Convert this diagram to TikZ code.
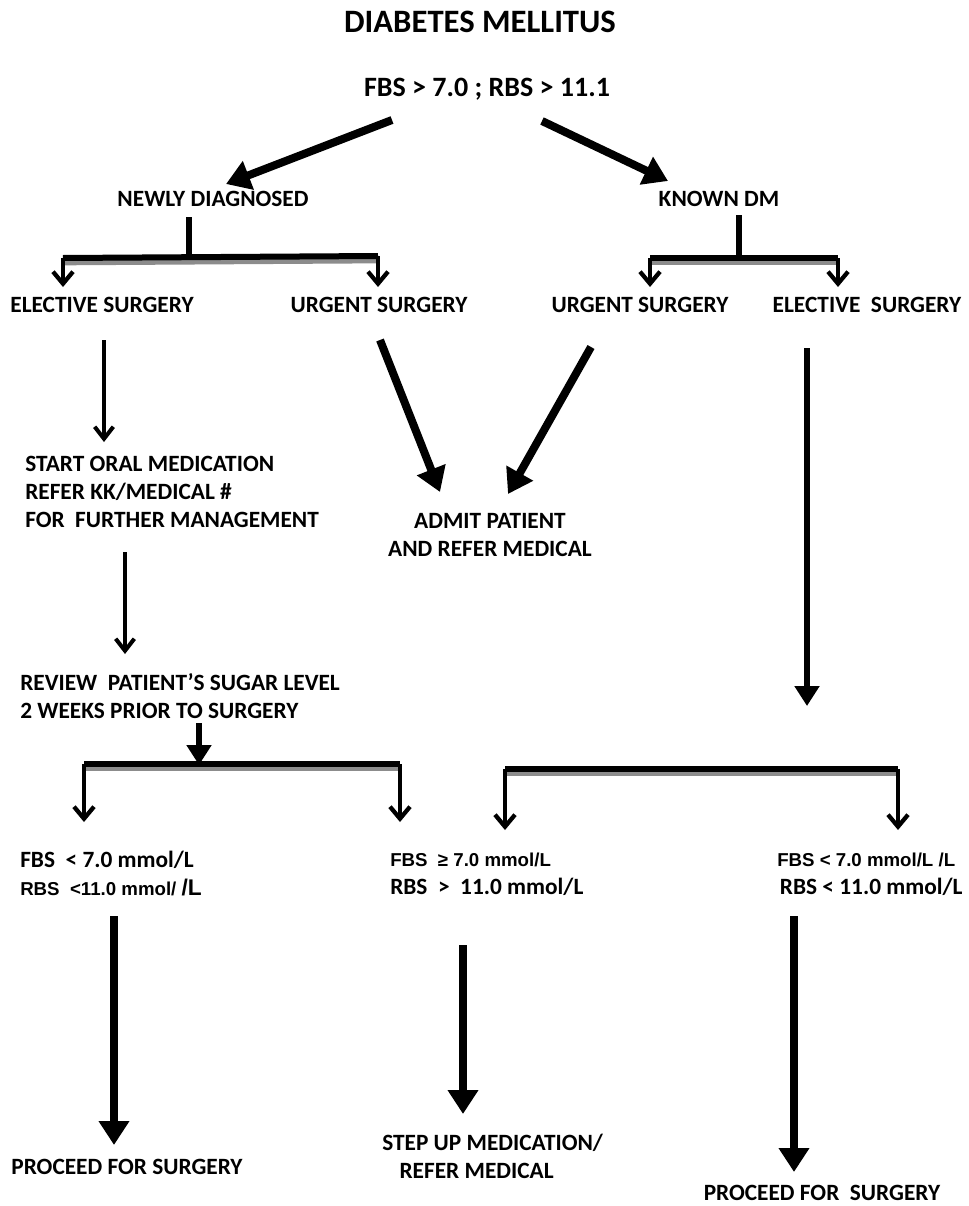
\documentclass[tikz,border=0pt]{standalone}
\usepackage{fontspec}
\setmainfont{Carlito}
\newfontfamily\arialfont{Liberation Sans}
\usetikzlibrary{arrows.meta}
\begin{document}
\begin{tikzpicture}[x=0.75pt,y=-0.75pt,
  txt/.style={inner sep=0pt, font=\bfseries\fontsize{17.5}{21}\selectfont},
  block/.style={txt, align=left, anchor=north west},
  bar/.style={line width=4.5pt},
  barshade/.style={line width=4pt, black!45},
  vee/.style={line width=3.2pt, -{Straight Barb[length=9pt,width=15pt]}},
  slim/.style={line width=3pt, -{Straight Barb[length=9pt,width=14pt]}},
  heavy/.style={line width=6pt, -{Triangle[length=18pt,width=22pt]}},
  medium/.style={line width=5pt, -{Triangle[length=15pt,width=18pt]}},
]
\newcommand{\smallarial}{\arialfont\fontsize{14}{21}\selectfont}
\useasboundingbox (0,0) rectangle (968,1206);

% ---- text ----
\node[txt, font=\bfseries\fontsize{24.5}{28}\selectfont] (title) at (480,22) {DIABETES MELLITUS};
\node[txt, font=\bfseries\fontsize{21}{25}\selectfont] (crit) at (487,89) {FBS > 7.0 ; RBS > 11.1};
\node[txt] (newdx) at (213,199) {NEWLY DIAGNOSED};
\node[txt] (known) at (719,199) {KNOWN DM};
\node[txt] (elecL) at (102,305) {ELECTIVE SURGERY};
\node[txt] (urgL) at (379,305) {URGENT SURGERY};
\node[txt] (urgR) at (640,305) {URGENT SURGERY};
\node[txt] (elecR) at (867,305) {ELECTIVE\ \ SURGERY};
\node[block] (oral) at (25,456)
  {START ORAL MEDICATION\\REFER KK/MEDICAL \#\\FOR\ \ FURTHER MANAGEMENT};
\node[txt, align=center] (admit) at (490,535)
  {ADMIT PATIENT\\AND REFER MEDICAL};
\node[block] (review) at (20,673)
  {REVIEW\ \ PATIENT'S SUGAR LEVEL\\2 WEEKS PRIOR TO SURGERY};
\node[block] (okL) at (20,851)
  {FBS\ \ < 7.0 mmol/L\\{\smallarial RBS\ \ <11.0 mmol/ {\fontsize{17}{21}\selectfont/L}}};
\node[block] (highM) at (390,853)
  {{\smallarial FBS\ \ ≥ 7.0 mmol/L}\\RBS\ \ >\ \ 11.0 mmol/L};
\node[block] (okR) at (777,853)
  {{\smallarial FBS < 7.0 mmol/L /L}\\\hspace*{2pt}RBS < 11.0 mmol/L};
\node[txt] (procL) at (127,1167) {PROCEED FOR SURGERY};
\node[block] (stepup) at (382,1134)
  {STEP UP MEDICATION/\\\hspace*{13pt}REFER MEDICAL};
\node[txt] (procR) at (822,1193) {PROCEED FOR\ \ SURGERY};

% ---- anchor points of the connectors ----
\coordinate (critL) at (392,120);  \coordinate (ndTip) at (226,184);
\coordinate (critR) at (542,121);  \coordinate (kdTip) at (668,181);

\coordinate (ndTop) at (189,217);  \coordinate (ndJoin) at (189,257);
\coordinate (ndBarL) at (63,258);  \coordinate (ndBarR) at (378,256);
\coordinate (elecLTip) at (63,287); \coordinate (urgLTip) at (378,287);

\coordinate (kdTop) at (739,215);  \coordinate (kdJoin) at (739,258);
\coordinate (kdBarL) at (650,258); \coordinate (kdBarR) at (838,258);
\coordinate (urgRTip) at (650,287); \coordinate (elecRTip) at (838,287);

\coordinate (elecLFoot) at (104,340); \coordinate (oralTip) at (104,442);
\coordinate (urgLFoot) at (380,340);  \coordinate (admitTipL) at (440,492);
\coordinate (urgRFoot) at (591,347);  \coordinate (admitTipR) at (508,494);
\coordinate (elecRFoot) at (807,348); \coordinate (rightTip) at (807,706);

\coordinate (oralFoot) at (125,552);   \coordinate (reviewTip) at (125,654);
\coordinate (reviewFoot) at (199,723); \coordinate (lbJoin) at (199,765);
\coordinate (lbL) at (84,764);  \coordinate (lbR) at (400,764);
\coordinate (okLTip) at (84,822); \coordinate (highMTip) at (400,822);
\coordinate (rbL) at (505,769); \coordinate (rbR) at (898,769);
\coordinate (highMTip2) at (505,830); \coordinate (okRTip) at (898,830);

\coordinate (okLFoot) at (114,916);    \coordinate (procLTip) at (114,1145);
\coordinate (highMFoot) at (463,945);  \coordinate (stepTip) at (463,1114);
\coordinate (okRFoot) at (794,916);    \coordinate (procRTip) at (794,1172);

% ---- top split ----
\draw[heavy] (critL) -- (ndTip);
\draw[heavy] (critR) -- (kdTip);

% ---- newly diagnosed bracket ----
\draw[barshade] ([yshift=-3.5pt]ndBarL) -- ([yshift=-3.5pt]ndBarR);
\draw[bar] (ndTop) -- (ndJoin);
\draw[bar] (ndBarL) -- (ndBarR);
\draw[vee] (ndBarL) -- (elecLTip);
\draw[vee] (ndBarR) -- (urgLTip);

% ---- known DM bracket ----
\draw[barshade] ([yshift=-3.5pt]kdBarL) -- ([yshift=-3.5pt]kdBarR);
\draw[bar] (kdTop) -- (kdJoin);
\draw[bar] (kdBarL) -- (kdBarR);
\draw[vee] (kdBarL) -- (urgRTip);
\draw[vee] (kdBarR) -- (elecRTip);

% ---- middle level ----
\draw[slim] (elecLFoot) -- (oralTip);
\draw[heavy] (urgLFoot) -- (admitTipL);
\draw[heavy] (urgRFoot) -- (admitTipR);
\draw[medium] (elecRFoot) -- (rightTip);
\draw[slim] (oralFoot) -- (reviewTip);
\draw[medium] (reviewFoot) -- (lbJoin);

% ---- review brackets ----
\draw[barshade] ([yshift=-3.5pt]lbL) -- ([yshift=-3.5pt]lbR);
\draw[bar] (lbL) -- (lbR);
\draw[vee] (lbL) -- (okLTip);
\draw[vee] (lbR) -- (highMTip);

\draw[barshade] ([yshift=-3.5pt]rbL) -- ([yshift=-3.5pt]rbR);
\draw[bar] (rbL) -- (rbR);
\draw[vee] (rbL) -- (highMTip2);
\draw[vee] (rbR) -- (okRTip);

% ---- outcomes ----
\draw[heavy] (okLFoot) -- (procLTip);
\draw[heavy] (highMFoot) -- (stepTip);
\draw[heavy] (okRFoot) -- (procRTip);
\end{tikzpicture}
\end{document}
